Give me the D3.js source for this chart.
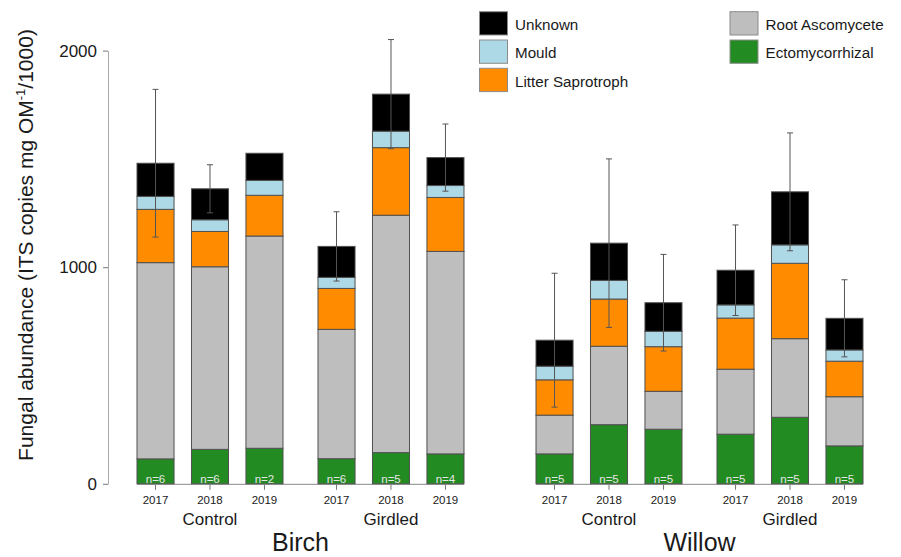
<!DOCTYPE html>
<html>
<head>
<meta charset="utf-8">
<script src="https://cdn.jsdelivr.net/npm/d3@7/dist/d3.min.js"></script>
<style>
  html, body { margin: 0; padding: 0; background: #fff; }
  svg { display: block; font-family: "Liberation Sans", Arial, sans-serif; }
</style>
</head>
<body>
<svg id="chart" width="901" height="557"></svg>
<script>
// Fungal guild abundance per tree species, treatment and year
const species = ["Birch", "Willow"];
const treatments = ["Control", "Girdled"];
const years = ["2017", "2018", "2019"];

// Stack order from the bottom up
const guilds = ["Ectomycorrhizal", "Root Ascomycete", "Litter Saprotroph", "Mould", "Unknown"];
const guildColors = ["#228b22", "#bebebe", "#ff8c00", "#add8e6", "#000000"];

// Values per bar, ordered Birch Control 2017..2019, Birch Girdled, Willow Control, Willow Girdled
const ectomycorrhizal  = [115, 159, 164, 116, 144, 138,  138, 273, 252, 229, 307, 175];
const rootAscomycete   = [906, 843, 980, 597, 1096, 935, 179, 362, 175, 300, 363, 227];
const litterSaprotroph = [246, 163, 188, 189, 312, 249,  163, 218, 206, 236, 348, 164];
const mould            = [60,  54,  69,  51,  76,  55,   63,  86,  71,  61,  85,  52];
const unknown          = [153, 143, 125, 143, 171, 129,  120, 172, 132, 160, 245, 146];
// Standard error of the total (null where none is drawn)
const totalSE          = [341, 111, null, 160, 252, 155, 309, 389, 223, 209, 272, 178];
const sampleSize       = [6, 6, 2, 6, 5, 4, 5, 5, 5, 5, 5, 5];

const yTicks = [0, 1000, 2000];

const svg = d3.select("#chart");

// Build bar records
const bars = [];
let idx = 0;
species.forEach(sp => treatments.forEach(tr => years.forEach(yr => {
  const vals = [ectomycorrhizal[idx], rootAscomycete[idx], litterSaprotroph[idx], mould[idx], unknown[idx]];
  let cum = 0;
  const segs = vals.map((v, k) => { const s = { guild: guilds[k], color: guildColors[k], y0: cum, y1: cum + v }; cum += v; return s; });
  bars.push({ species: sp, treatment: tr, year: yr, segs, total: cum, se: totalSE[idx], n: sampleSize[idx] });
  idx++;
})));

// Scales
const y = d3.scaleLinear().domain([0, 2000]).range([483.8, 50.6]);
const xSpecies = d3.scaleBand().domain(species).range([137, 863]).paddingInner(0.1805).paddingOuter(0);
const xTreat = d3.scaleBand().domain(treatments).range([0, xSpecies.bandwidth()]).paddingInner(0.1934).paddingOuter(0);
const xYear = d3.scaleBand().domain(years).range([0, xTreat.bandwidth()]).paddingInner(0.32).paddingOuter(0);
const barX = d => xSpecies(d.species) + xTreat(d.treatment) + xYear(d.year);
const barCx = d => barX(d) + xYear.bandwidth() / 2;

// Y axis
const yAxis = svg.append("g")
  .attr("transform", "translate(108,0)")
  .call(d3.axisLeft(y).tickValues(yTicks).tickSize(5).tickSizeOuter(0).tickPadding(6).tickFormat(d3.format("d")));
yAxis.select(".domain").attr("stroke", "#a8a8a8");
yAxis.selectAll(".tick line").attr("stroke", "#777");
yAxis.selectAll(".tick text").attr("font-size", 17).attr("fill", "#1a1a1a")
  .attr("font-family", "Liberation Sans, Arial, sans-serif");

// Y axis title
const yTitle = svg.append("text")
  .attr("transform", "translate(33,245) rotate(-90)")
  .attr("text-anchor", "middle")
  .attr("font-size", 21)
  .attr("fill", "#1a1a1a");
yTitle.append("tspan").text("Fungal abundance (ITS copies mg OM");
yTitle.append("tspan").attr("font-size", 13).attr("dy", -8).text("-1");
yTitle.append("tspan").attr("dy", 8).text("/1000)");

// Baseline under each species panel
species.forEach(sp => {
  svg.append("line")
    .attr("x1", xSpecies(sp)).attr("x2", xSpecies(sp) + xSpecies.bandwidth())
    .attr("y1", y(0) + 0.5).attr("y2", y(0) + 0.5)
    .attr("stroke", "#8a8a8a").attr("stroke-width", 1);
});

// Stacked bars
const barG = svg.append("g").selectAll("g").data(bars).join("g");
barG.selectAll("rect").data(d => d.segs.map(s => ({ ...s, x: barX(d) }))).join("rect")
  .attr("x", s => s.x)
  .attr("y", s => y(s.y1))
  .attr("width", xYear.bandwidth())
  .attr("height", s => y(s.y0) - y(s.y1))
  .attr("fill", s => s.color)
  .attr("stroke", "#505050")
  .attr("stroke-width", 1);

// Error bars on the totals
const errs = bars.filter(d => d.se != null);
const capW = 3;
svg.append("g").selectAll("g").data(errs).join("g").each(function(d) {
  const g = d3.select(this);
  const cx = barCx(d);
  const top = y(d.total + d.se), bot = y(d.total - d.se);
  g.append("line").attr("x1", cx).attr("x2", cx).attr("y1", top).attr("y2", bot)
    .attr("stroke", "#555").attr("stroke-width", 1);
  [top, bot].forEach(v => g.append("line")
    .attr("x1", cx - capW).attr("x2", cx + capW).attr("y1", v).attr("y2", v)
    .attr("stroke", "#555").attr("stroke-width", 1));
});

// Sample size labels inside the bars
svg.append("g").selectAll("text").data(bars).join("text")
  .attr("x", d => barCx(d))
  .attr("y", y(0) - 1)
  .attr("text-anchor", "middle")
  .attr("font-size", 11.5)
  .attr("fill", "#e6e6e6")
  .text(d => "n=" + d.n);

// Year ticks and labels
svg.append("g").selectAll("line").data(bars).join("line")
  .attr("x1", d => barCx(d)).attr("x2", d => barCx(d))
  .attr("y1", y(0) + 1).attr("y2", y(0) + 6)
  .attr("stroke", "#777");
svg.append("g").selectAll("text").data(bars).join("text")
  .attr("x", d => barCx(d))
  .attr("y", 504)
  .attr("text-anchor", "middle")
  .attr("font-size", 11.5)
  .attr("fill", "#1a1a1a")
  .text(d => d.year);

// Treatment labels
species.forEach(sp => treatments.forEach(tr => {
  svg.append("text")
    .attr("x", xSpecies(sp) + xTreat(tr) + xTreat.bandwidth() / 2)
    .attr("y", 525)
    .attr("text-anchor", "middle")
    .attr("font-size", 17)
    .attr("fill", "#1a1a1a")
    .text(tr);
}));

// Species labels
species.forEach(sp => {
  svg.append("text")
    .attr("x", xSpecies(sp) + xSpecies.bandwidth() / 2)
    .attr("y", 551)
    .attr("text-anchor", "middle")
    .attr("font-size", 25)
    .attr("fill", "#1a1a1a")
    .text(sp);
});

// Legend
const legendItems = [
  { label: "Unknown", color: guildColors[4], col: 0, row: 0 },
  { label: "Mould", color: guildColors[3], col: 0, row: 1 },
  { label: "Litter Saprotroph", color: guildColors[2], col: 0, row: 2 },
  { label: "Root Ascomycete", color: guildColors[1], col: 1, row: 0 },
  { label: "Ectomycorrhizal", color: guildColors[0], col: 1, row: 1 }
];
const legend = svg.append("g").selectAll("g").data(legendItems).join("g")
  .attr("transform", d => `translate(${d.col ? 730 : 479.5},${11.7 + d.row * 28.3})`);
legend.append("rect")
  .attr("width", 28).attr("height", 23.3)
  .attr("fill", d => d.color)
  .attr("stroke", "#8c8c8c").attr("stroke-width", 1);
legend.append("text")
  .attr("x", 35.5).attr("y", 18.3)
  .attr("font-size", 15.2)
  .attr("fill", "#1a1a1a")
  .text(d => d.label);
</script>
</body>
</html>
